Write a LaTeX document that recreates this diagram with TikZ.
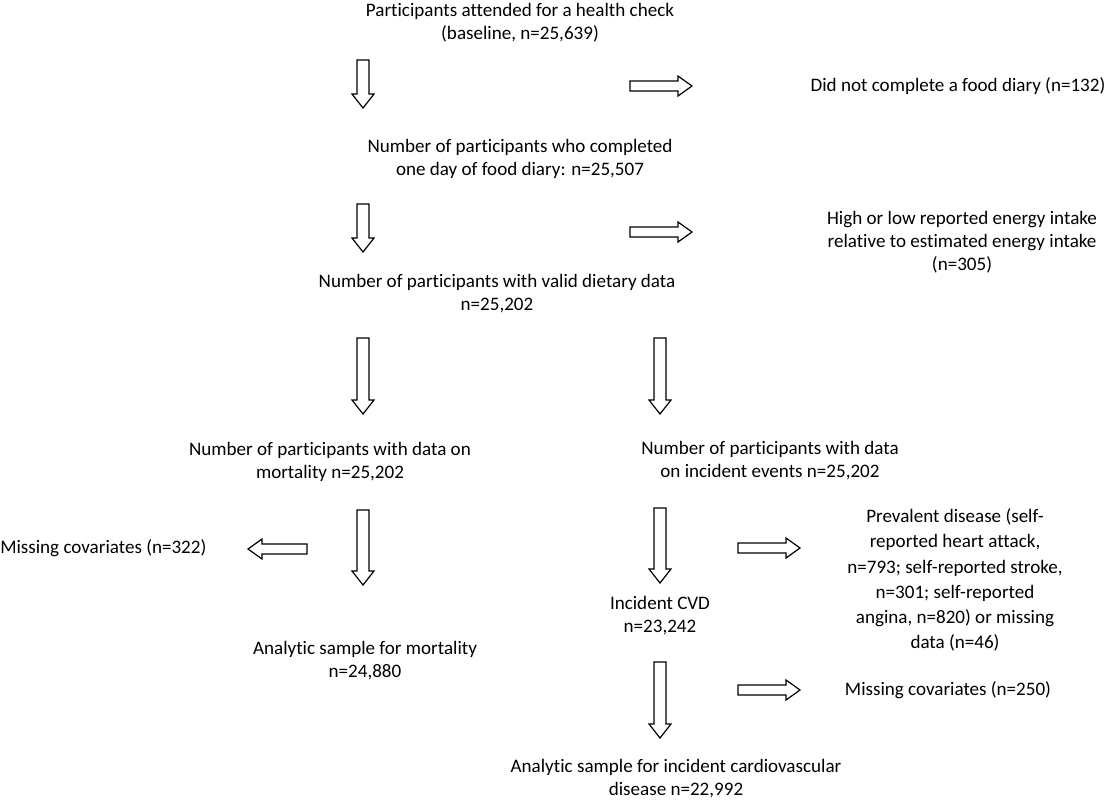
\documentclass[tikz,border=0pt]{standalone}
\usepackage{fontspec}
\setmainfont{Carlito}[Ligatures=NoCommon]
\begin{document}
\begin{tikzpicture}[x=0.75pt,y=-0.75pt,
  txt/.style={align=center,font=\fontsize{14.3}{17.3}\selectfont,inner sep=0pt},
  blk/.style={draw=black,line width=0.9pt,fill=white,line join=miter}]
\useasboundingbox (0,0) rectangle (1116,800);
\newcommand\darr[3]{\draw[blk] (#1-6,#2) -- (#1+6,#2) -- (#1+6,#3-14) -- (#1+11,#3-14) -- (#1,#3) -- (#1-11,#3-14) -- (#1-6,#3-14) -- cycle;}
\newcommand\rarr[3]{\draw[blk] (#1,#3-5) -- (#2-14,#3-5) -- (#2-14,#3-10) -- (#2,#3) -- (#2-14,#3+10) -- (#2-14,#3+5) -- (#1,#3+5) -- cycle;}
\newcommand\larr[3]{\draw[blk] (#1,#3-5) -- (#2+14,#3-5) -- (#2+14,#3-10) -- (#2,#3) -- (#2+14,#3+10) -- (#2+14,#3+5) -- (#1,#3+5) -- cycle;}
\node[txt] (a) at (520,23) {Participants attended for a health check\\(baseline, n=25,639)};
\node[txt] (r1) at (958,86) {Did not complete a food diary (n=132)};
\node[txt] (b) at (520,159) {Number of participants who completed\\one day of food diary: n=25,507};
\node[txt] (r2) at (962,242) {High or low reported energy intake\\relative to estimated energy intake\\(n=305)};
\node[txt] (c) at (497,294) {Number of participants with valid dietary data\\n=25,202};
\node[txt] (d) at (330,462) {Number of participants with data on\\mortality n=25,202};
\node[txt] (e) at (770,461) {Number of participants with data\\on incident events n=25,202};
\node[txt,anchor=west] (l1) at (0,548) {Missing covariates (n=322)};
\node[txt] (f) at (365,661) {Analytic sample for mortality\\n=24,880};
\node[txt] (g) at (660,616) {Incident CVD\\n=23,242};
\node[txt,font=\fontsize{14.3}{18.9}\selectfont] (r3) at (955,580) {Prevalent disease (self-\\reported heart attack,\\n=793; self-reported stroke,\\n=301; self-reported\\angina, n=820) or missing\\data (n=46)};
\node[txt] (r4) at (948,690) {Missing covariates (n=250)};
\node[txt] (h) at (676,779) {Analytic sample for incident cardiovascular\\disease n=22,992};
\darr{363}{60}{108}
\rarr{630}{692}{86}
\darr{363}{204}{252}
\rarr{630}{692}{232}
\darr{363}{338}{414}
\darr{660}{338}{414}
\darr{363}{510}{585}
\larr{307}{248}{549}
\darr{660}{508}{583}
\rarr{738}{800}{548}
\darr{660}{662}{738}
\rarr{738}{800}{690}
\end{tikzpicture}
\end{document}
